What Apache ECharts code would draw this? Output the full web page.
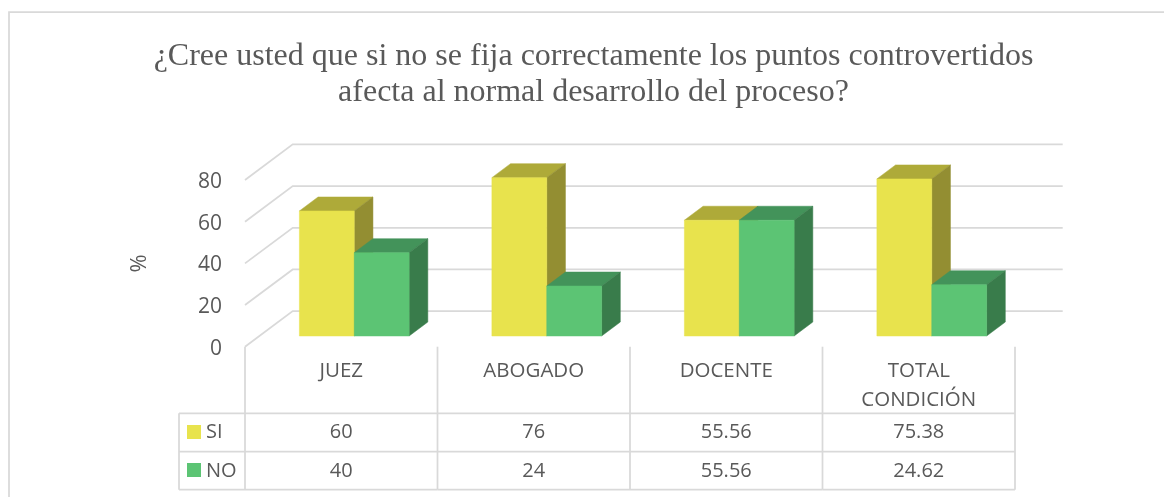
<!DOCTYPE html>
<html><head><meta charset="utf-8">
<style>html,body{margin:0;padding:0;background:#fff}#c{width:1164px;height:497px}</style>
<script src="https://cdn.jsdelivr.net/npm/echarts@6/dist/echarts.min.js"></script>
</head><body><div id="c"></div>
<script>
const categories = ['JUEZ', 'ABOGADO', 'DOCENTE', 'TOTAL\nCONDICIÓN'];
const siValues = [60, 76, 55.56, 75.38];
const noValues = [40, 24, 55.56, 24.62];
const siLabels = ['60', '76', '55.56', '75.38'];
const noLabels = ['40', '24', '55.56', '24.62'];
const yTicks = [0, 20, 40, 60, 80];
const titleLines = '¿Cree usted que si no se fija correctamente los puntos controvertidos\nafecta al normal desarrollo del proceso?';

const FONT = '"Open Sans", sans-serif';
const TXT = '#595959', LINE = '#d9d9d9', LW = 1.75;
const DX = 47.7, DY = -35.6;            // wall depth
const BX = 13, BY = -10.7;              // bar plane offset
const BDX = 18.7, BDY = -14;            // bar depth
const COLORS = {
  si: { front: '#e8e34d', top: '#aeaa39', side: '#938e32' },
  no: { front: '#5cc474', top: '#43935a', side: '#397c4b' }
};
const T = { labelTop: 346.7, r1: 413.3, r2: 451.5, r3: 489.7, left: 179 };

function barItem(colors, sign) {
  return function (params, api) {
    const cat = api.value(0), val = api.value(1);
    const top = api.coord([cat, val]), bottom = api.coord([cat, 0]);
    const catW = api.size([1, 0])[0];
    const bw = catW * 0.285;
    const left = top[0] + BX + (sign < 0 ? -bw : 0);
    const right = left + bw;
    const y0 = bottom[1] + BY, y1 = top[1] + BY;
    const poly = (pts, fill) => ({ type: 'polygon', shape: { points: pts }, style: { fill, stroke: fill, lineWidth: 0.5 } });
    return { type: 'group', children: [
      poly([[left, y1], [right, y1], [right + BDX, y1 + BDY], [left + BDX, y1 + BDY]], colors.top),
      poly([[right, y0], [right + BDX, y0 + BDY], [right + BDX, y1 + BDY], [right, y1]], colors.side),
      poly([[left, y0], [right, y0], [right, y1], [left, y1]], colors.front)
    ]};
  };
}
function tableItem(params, api) {
  const i = api.value(0);
  const c = api.coord([i, 0]);
  const w = api.size([1, 0])[0];
  const xl = c[0] - w / 2, xr = c[0] + w / 2;
  const line = (x1, y1, x2, y2) => ({ type: 'line', shape: { x1, y1, x2, y2 }, style: { stroke: LINE, lineWidth: LW } });
  const text = (t, x, y, size) => ({ type: 'text', style: { text: t, x, y, align: 'center', verticalAlign: 'middle', fill: TXT, font: size + 'px ' + FONT, lineHeight: 29 } });
  const kids = [
    line(xr, T.labelTop, xr, T.r3),
    line(xl, T.r1, xr, T.r1), line(xl, T.r2, xr, T.r2), line(xl, T.r3, xr, T.r3),
    text(categories[i], c[0], categories[i].includes('\n') ? 385.5 : 371, 20.5),
    text(siLabels[i], c[0], 432.5, 20), text(noLabels[i], c[0], 471, 20)
  ];
  if (i === 0) {
    kids.push(line(xl, T.labelTop, xl, T.r3), line(T.left, T.r1, xl, T.r1), line(T.left, T.r2, xl, T.r2),
      line(T.left, T.r3, xl, T.r3), line(T.left, T.r1, T.left, T.r3));
    kids.push({ type: 'rect', shape: { x: 187, y: 425, width: 14, height: 14 }, style: { fill: COLORS.si.front } });
    kids.push({ type: 'rect', shape: { x: 187, y: 463, width: 14, height: 14 }, style: { fill: COLORS.no.front } });
    kids.push({ type: 'text', style: { text: 'SI', x: 206, y: 432.5, verticalAlign: 'middle', fill: TXT, font: '20px ' + FONT } });
    kids.push({ type: 'text', style: { text: 'NO', x: 206, y: 471, verticalAlign: 'middle', fill: TXT, font: '20px ' + FONT } });
  }
  return { type: 'group', children: kids };
}

const chart = echarts.init(document.getElementById('c'), null, { renderer: 'canvas' });
chart.setOption({
  animation: false,
  backgroundColor: '#fff',
  title: { text: titleLines, left: 588.5, top: 34, textAlign: 'center',
    textStyle: { fontFamily: '"Liberation Serif", serif', fontSize: 32, fontWeight: 'normal', color: TXT, lineHeight: 36 } },
  grid: { left: 245, right: 149, top: 180, height: 166.7, containLabel: false },
  xAxis: { type: 'category', data: categories, axisLine: { show: false }, axisTick: { show: false }, axisLabel: { show: false }, splitLine: { show: false } },
  yAxis: { type: 'value', min: 0, max: 80, interval: 20, name: '%', nameLocation: 'middle', nameGap: 94, nameRotate: 90,
    nameTextStyle: { fontFamily: FONT, fontSize: 22, color: TXT },
    axisLine: { show: false }, axisTick: { show: false }, splitLine: { show: false },
    axisLabel: { fontFamily: FONT, fontSize: 21, color: TXT, margin: 23, lineHeight: 30, verticalAlign: 'top', padding: [-13, 0, 0, 0] } },
  graphic: [{ type: 'polyline', silent: true, z: -1, shape: { points: [[9, 497], [9, 12], [1164, 12]] }, style: { fill: null, stroke: LINE, lineWidth: LW } }],
  series: [
    { type: 'custom', name: 'wall', coordinateSystem: 'cartesian2d', clip: false, data: yTicks.map(v => [0, v]), encode: { x: 0, y: 1 }, z: 1,
      renderItem: (p, api) => { const v = api.value(1); const a = api.coord([0, v]); const w = api.size([1, 0])[0];
        const x0 = a[0] - w / 2, y0 = a[1], x1 = x0 + DX, y1 = y0 + DY, x2 = x1 + w * categories.length;
        return { type: 'polyline', silent: true, shape: { points: [[x0, y0], [x1, y1], [x2, y1]] }, style: { stroke: LINE, lineWidth: LW, fill: null } }; } },
    { type: 'custom', name: 'SI', clip: false, data: siValues.map((v, i) => [i, v]), encode: { x: 0, y: 1 }, z: 2, renderItem: barItem(COLORS.si, -1) },
    { type: 'custom', name: 'NO', clip: false, data: noValues.map((v, i) => [i, v]), encode: { x: 0, y: 1 }, z: 3, renderItem: barItem(COLORS.no, 1) },
    { type: 'custom', name: 'table', clip: false, data: categories.map((c, i) => [i, 0]), encode: { x: 0, y: 1 }, z: 4, renderItem: tableItem }
  ]
});
</script></body></html>
